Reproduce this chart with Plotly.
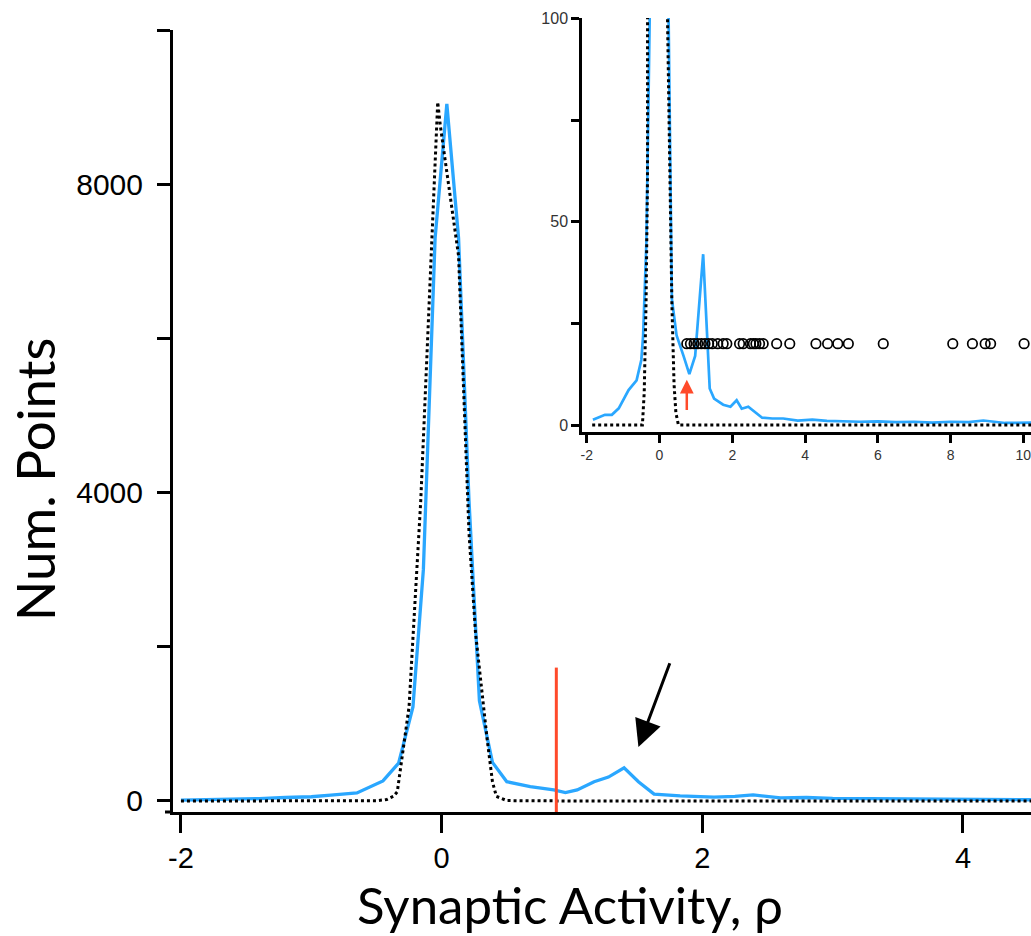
import plotly.graph_objects as go

# ---------------- data ----------------
# main histogram (blue) : synaptic activity vs number of points
blue_x = [-2.0, -1.8, -1.6, -1.4, -1.2, -1.0, -0.85, -0.65, -0.45, -0.33, -0.22, -0.14, -0.05,
          0.04, 0.13, 0.21, 0.29, 0.39, 0.50, 0.68, 0.86, 0.95, 1.04, 1.17, 1.28, 1.40, 1.51,
          1.63, 1.83, 2.09, 2.25, 2.39, 2.6, 2.8, 3.0, 3.3, 3.6, 4.0, 4.3, 4.6]
blue_y = [10, 15, 22, 30, 45, 55, 75, 105, 260, 490, 1220, 3000, 7300,
          9040, 7300, 3900, 1300, 500, 250, 185, 143, 108, 143, 250, 310, 430, 250,
          90, 65, 50, 60, 78, 40, 45, 35, 30, 25, 20, 18, 15]

# gaussian fit (black dotted)
fit_x = [-2.0, -1.0, -0.5, -0.42, -0.37, -0.34, -0.31, -0.25, -0.16, -0.08, -0.03,
         -0.01, 0.13, 0.21, 0.26, 0.35, 0.39, 0.42, 0.5, 1.0, 2.0, 3.0, 4.6]
fit_y = [0, 0, 3, 20, 60, 120, 490, 1220, 3900, 7070, 9065,
         8760, 7070, 3480, 2180, 790, 250, 60, 5, 0, 0, 0, 0]

# threshold (red line) and arrow annotation
thresh_x = [0.88, 0.88]
thresh_y = [1730, -143]
arrow_tail = (1.755, 1805)
arrow_tip = (1.51, 700)

# inset: zoomed histogram
ins_x = [-1.83, -1.5, -1.31, -1.12, -0.85, -0.63, -0.5, -0.45, -0.36, -0.27, 0.0,
         0.25, 0.34, 0.47, 0.66, 0.82, 0.98, 1.20, 1.38, 1.50, 1.75, 1.95, 2.12, 2.26,
         2.44, 2.6, 2.82, 3.1, 3.4, 3.8, 4.2, 4.6, 5.0, 5.5, 6.0, 6.5, 7.0, 7.5, 8.0,
         8.5, 8.9, 9.5, 10.3]
ins_y = [1.3, 2.5, 2.5, 4.1, 8.6, 11, 16, 22, 45, 100, 9000,
         100, 31, 22, 17, 12.5, 17, 42, 9, 6.5, 5, 4.5, 6.1, 4,
         4.5, 3.3, 1.8, 1.6, 1.6, 1.1, 1.3, 1.0, 0.9, 0.8, 0.9, 0.7, 0.8, 0.6, 0.8,
         0.7, 1.1, 0.5, 0.6]

ins_fit_x = [-1.85, -0.47, -0.42, -0.37, -0.33, -0.28, -0.03, 0.22, 0.28, 0.34, 0.40, 0.45, 0.52, 10.3]
ins_fit_y = [0, 0, 8, 30, 60, 100, 9000, 100, 60, 30, 10, 3, 0, 0]

# open circles (individual events) at a fixed level
evt_x = [0.75, 0.85, 0.95, 1.05, 1.15, 1.25, 1.35, 1.45, 1.6, 1.75, 1.85, 2.2, 2.3,
         2.5, 2.58, 2.65, 2.75, 2.85, 3.22, 3.58, 4.3, 4.62, 4.9, 5.19, 6.15,
         8.06, 8.6, 8.95, 9.1, 10.02]
evt_level = 20
ins_arrow_x = 0.75
ins_arrow_from = 3.3
ins_arrow_to = 11.1

main_yticks = [0, 2000, 4000, 6000, 8000, 10000]
main_ytext = ["0", "", "4000", "", "8000", ""]
main_xticks = [-2, 0, 2, 4]
main_xtext = ["-2", "0", "2", "4"]
ins_yticks = [0, 25, 50, 75, 100]
ins_ytext = ["0", "", "50", "", "100"]
ins_xticks = [-2, 0, 2, 4, 6, 8, 10]
ins_xtext = ["-2", "0", "2", "4", "6", "8", "10"]

BLUE = "#2aa7ff"
RED = "#ff4a2a"

fig = go.Figure()

# main
fig.add_trace(go.Scatter(x=blue_x, y=blue_y, mode="lines",
                         line=dict(color=BLUE, width=3.3), xaxis="x", yaxis="y"))
fig.add_trace(go.Scatter(x=fit_x, y=fit_y, mode="lines",
                         line=dict(color="black", width=3, dash="dot"), xaxis="x", yaxis="y"))
fig.add_trace(go.Scatter(x=thresh_x, y=thresh_y, mode="lines",
                         line=dict(color=RED, width=3), xaxis="x", yaxis="y"))

# inset
fig.add_trace(go.Scatter(x=ins_x, y=ins_y, mode="lines",
                         line=dict(color=BLUE, width=2.7), xaxis="x2", yaxis="y2"))
fig.add_trace(go.Scatter(x=ins_fit_x, y=ins_fit_y, mode="lines",
                         line=dict(color="black", width=3, dash="dot"), xaxis="x2", yaxis="y2"))
fig.add_trace(go.Scatter(x=evt_x, y=[evt_level] * len(evt_x), mode="markers",
                         marker=dict(symbol="circle-open", size=9.5, color="black",
                                     line=dict(width=1.7, color="black")),
                         xaxis="x2", yaxis="y2"))

# the page body margin is removed below (post_script), so pixels map 1:1
W, H = 1031, 936
L, R, T = 173, 0, 18
BOTTOM = 812
B = H - BOTTOM
plot_w = W - L - R
plot_h = H - T - B


def px_x(p):
    return (p - L) / plot_w


def px_y(p):
    return (BOTTOM - p) / plot_h


tickfont_main = dict(family="Liberation Sans, Arial", size=29, color="black")

fig.update_layout(
    width=W, height=H,
    margin=dict(l=L, r=R, t=T, b=B),
    paper_bgcolor="white", plot_bgcolor="rgba(0,0,0,0)",
    showlegend=False,
    xaxis=dict(domain=[0, 1], range=[-2.061, 4.522], tickvals=main_xticks, ticktext=main_xtext,
               ticks="outside", ticklen=18, tickwidth=3, tickcolor="black",
               showline=True, linewidth=3, linecolor="black",
               showgrid=False, zeroline=False, ticklabelstandoff=0,
               tickfont=tickfont_main),
    yaxis=dict(domain=[0, px_y(30)], range=[-143, 10000], tickvals=main_yticks,
               ticktext=main_ytext,
               ticks="outside", ticklen=13, tickwidth=3, tickcolor="black",
               showline=True, linewidth=3, linecolor="black",
               showgrid=False, zeroline=False, ticklabelstandoff=8,
               tickfont=dict(family="Liberation Sans, Arial", size=30, color="black")),
    xaxis2=dict(domain=[px_x(582), 1], range=[-2.13, 10.21], anchor="y2",
                tickvals=ins_xticks, ticktext=ins_xtext, ticklabeloverflow="allow",
                ticks="outside", ticklen=8, tickwidth=2.5, tickcolor="black",
                showline=True, linewidth=2.5, linecolor="black",
                showgrid=False, zeroline=False,
                tickfont=dict(family="Liberation Sans, Arial", size=14, color="#333")),
    yaxis2=dict(domain=[px_y(432), 1], range=[-1.72, 100.1], anchor="x2",
                tickvals=ins_yticks, ticktext=ins_ytext,
                ticks="outside", ticklen=8, tickwidth=2.5, tickcolor="black",
                showline=True, linewidth=2.5, linecolor="black",
                showgrid=False, zeroline=False,
                tickfont=dict(family="Liberation Sans, Arial", size=16, color="#333")),
)

# small extension of the x axis line to the left of the y axis
fig.add_shape(type="line", xref="paper", yref="paper",
              x0=px_x(165), x1=px_x(173), y0=px_y(812), y1=px_y(812),
              line=dict(color="black", width=3))

title_font = dict(family="Gill Sans, Lato, sans-serif", size=51, color="black")
fig.add_annotation(xref="paper", yref="paper", x=px_x(570), y=px_y(936),
                   text="Synaptic Activity, ρ", showarrow=False, borderpad=0,
                   xanchor="center", yanchor="bottom", font=title_font)
fig.add_annotation(xref="paper", yref="paper", x=px_x(34), y=px_y(479),
                   text="Num. Points", showarrow=False, textangle=-90,
                   xanchor="center", yanchor="middle",
                   font=dict(family="Gill Sans, Lato, sans-serif", size=53, color="black"))

# black arrow pointing at the secondary peak
fig.add_annotation(xref="x", yref="y", axref="x", ayref="y",
                   x=arrow_tip[0], y=arrow_tip[1], ax=arrow_tail[0], ay=arrow_tail[1],
                   showarrow=True, arrowhead=2, arrowsize=1.8, arrowwidth=3,
                   arrowcolor="black", text="")
# red arrow in the inset
fig.add_annotation(xref="x2", yref="y2", axref="x2", ayref="y2",
                   x=ins_arrow_x, y=ins_arrow_to, ax=ins_arrow_x, ay=ins_arrow_from,
                   showarrow=True, arrowhead=2, arrowsize=1.1, arrowwidth=2.5,
                   arrowcolor=RED, text="")

fig.write_html("out.html", config={"displayModeBar": False},
               post_script="document.body.style.margin='0px';document.body.style.overflow='hidden';")
